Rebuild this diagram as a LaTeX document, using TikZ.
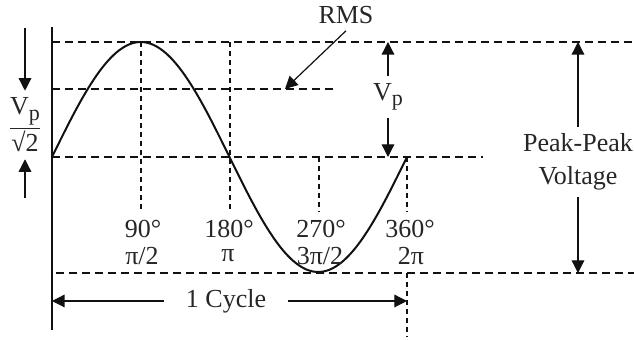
\documentclass[tikz,border=0pt]{standalone}
\usepackage{amsmath}
\usepackage{fontspec}
\setmainfont{Liberation Serif}
\usetikzlibrary{arrows.meta}
\definecolor{ink}  {HTML}{111111}
\definecolor{inkt} {HTML}{262626}
\newcommand{\Vsub}{V\raisebox{-0.2em}{\fontsize{11}{11}\selectfont p}}
\tikzset{
  axisln/.style  = {draw=ink, line width=1pt},
  wave/.style    = {draw=ink, line width=1pt},
  hgrid/.style   = {draw=ink, line width=0.9pt, dash pattern=on 4pt off 2.5pt},
  vgrid/.style   = {draw=ink, line width=0.9pt, dash pattern=on 2.5pt off 2pt},
  pointer/.style = {-{Triangle[length=6.3pt,width=6.3pt]}, draw=ink, line width=0.6pt},
  lbl/.style     = {text=inkt, font=\fontsize{13}{16.5}\selectfont, align=center},
}

\begin{document}
\begin{tikzpicture}[x=0.5pt, y=-0.5pt]
  \useasboundingbox (0,0) rectangle (634,340);
  % levels
  \coordinate (pk)   at (52,42);
  \coordinate (rm)   at (52,89);
  \coordinate (zr)   at (52,157);
  \coordinate (tr)   at (56,273);
  \coordinate (c360) at (407,157);

  % dashed guides
  \draw[hgrid] (pk) -- (634,42);
  \draw[hgrid] (rm) -- (337,89);
  \draw[hgrid] (zr) -- (483,157);
  \draw[hgrid] (tr) -- (634,273);
  \draw[vgrid] (141,42) -- (141,212);
  \draw[vgrid] (230,42) -- (230,212);
  \draw[vgrid] (319,157) -- (319,212);
  \draw[vgrid] (c360) -- (407,212);
  \draw[vgrid] (407,273) -- (407,337);

  % axis and one period
  \draw[axisln] (52,27) -- (52,330);
  \draw[wave] plot[domain=0:360, samples=73, smooth]
    ({52+\x*0.98611}, {157-115*sin(\x)});

  % angle labels
  \node[lbl] (d90)  at (143,229) {90°};
  \node[lbl] (r90)  at (142,256) {π/2};
  \node[lbl] (d180) at (229,229) {180°};
  \node[lbl] (r180) at (228,256) {π};
  \node[lbl] (d270) at (321,229) {270°};
  \node[lbl] (r270) at (320,256) {3π/2};
  \node[lbl] (d360) at (410,229) {360°};
  \node[lbl] (r360) at (411,256) {2π};

  % rms pointer
  \node[lbl] (rms) at (346,15) {RMS};
  \coordinate (rmstip) at (285,89);
  \draw[pointer] (rms.south) -- (rmstip);

  % peak value
  \node[lbl] (vp) at (388,97) {\Vsub};
  \draw[pointer] (vp.north) -- (vp.north |- pk);
  \draw[pointer] (vp.south) -- (vp.south |- zr);

  % peak to peak
  \node[lbl] (pp) at (578,162) {Peak-Peak\\Voltage};
  \draw[pointer] (pp.north) -- (pp.north |- pk);
  \draw[pointer] (pp.south) -- (pp.south |- tr);

  % rms value, left side
  \node[lbl] (vfrac) at (25,125) {$\dfrac{\text{\Vsub}}{\text{√2}}$};
  \coordinate (ftop) at (25,28);
  \coordinate (fbot) at (25,198);
  \draw[pointer] (ftop) -- (vfrac.north);
  \draw[pointer] (fbot) -- (vfrac.south);

  % one cycle
  \node[lbl, inner xsep=11pt] (cyc) at (226,301) {1 Cycle};
  \draw[pointer] (cyc.west) -- (cyc.west -| zr);
  \draw[pointer] (cyc.east) -- (cyc.east -| c360);
\end{tikzpicture}
\end{document}
